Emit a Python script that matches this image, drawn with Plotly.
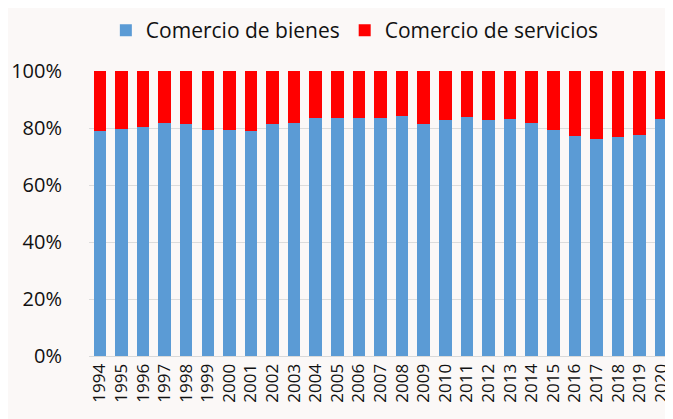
import plotly.graph_objects as go

years = [str(y) for y in range(1994, 2021)]
bienes = [78.9, 79.6, 80.3, 81.6, 81.3, 79.3, 79.4, 79.0, 81.3, 81.9, 83.4, 83.6, 83.6, 83.4,
          84.3, 81.3, 82.8, 83.7, 82.8, 83.0, 81.9, 79.3, 77.1, 76.3, 77.0, 77.7, 83.1]
servicios = [round(100 - b, 1) for b in bienes]

fig = go.Figure()
fig.add_trace(go.Bar(x=years, y=bienes, name="Comercio de bienes",
                     marker=dict(color="#5b9bd5", line=dict(width=0))))
fig.add_trace(go.Bar(x=years, y=servicios, name="Comercio de servicios",
                     marker=dict(color="#ff0000", line=dict(width=0))))

fig.update_layout(
    barmode="stack",
    bargap=0.42,
    width=665, height=411,
    margin=dict(l=81, r=1, t=63, b=63),
    paper_bgcolor="#fbf8f7",
    plot_bgcolor="#fbf8f7",
    font=dict(family="Open Sans, Liberation Sans, sans-serif", color="#111111", size=19),
    legend=dict(orientation="h", x=0.456, xanchor="center", y=0.995, yanchor="top",
                yref="container", font=dict(size=21), traceorder="normal"),
    showlegend=True,
)
fig.update_yaxes(range=[0, 100], dtick=20, ticksuffix="%", showgrid=True,
                 gridcolor="#dcdcdc", gridwidth=1, zeroline=False,
                 tickfont=dict(size=20), automargin=False, ticks="",
                 ticklabelstandoff=26)
fig.update_xaxes(tickangle=-90, tickfont=dict(size=17), automargin=False,
                 showline=True, linecolor="#d9d9d9", ticks="")

fig.write_html("out.html")
